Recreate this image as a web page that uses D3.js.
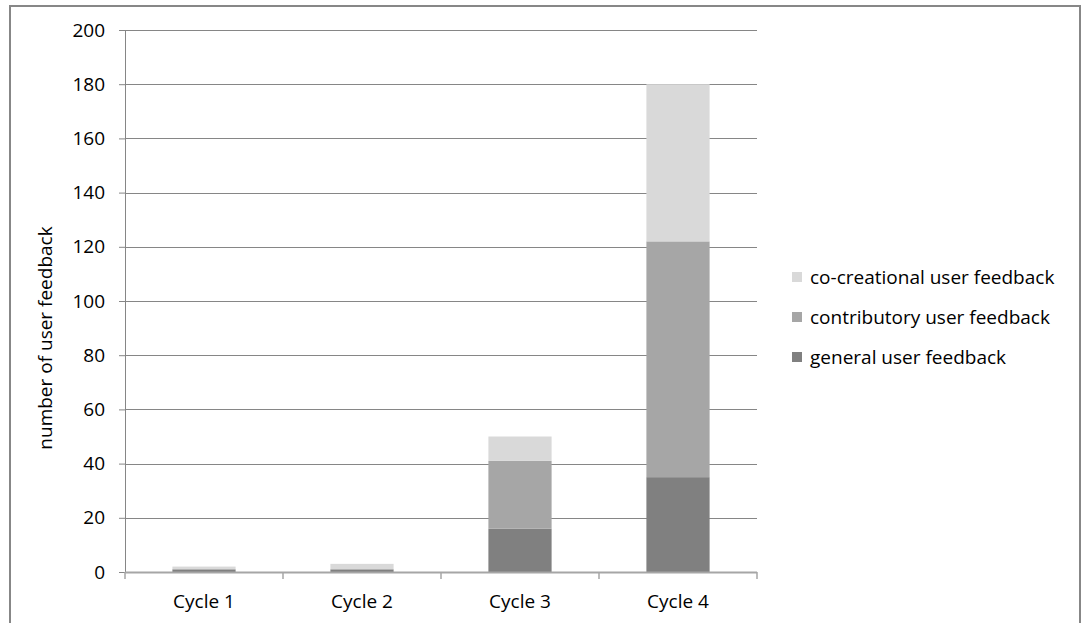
<!DOCTYPE html>
<html>
<head>
<meta charset="utf-8">
<script src="https://cdn.jsdelivr.net/npm/d3@7"></script>
<style>
  body { margin: 0; background: #fff; }
  svg text { font-family: "Open Sans", Lato, sans-serif; fill: #000; }
</style>
</head>
<body>
<div id="chart"></div>
<script>
// data
const cycles = ["Cycle 1", "Cycle 2", "Cycle 3", "Cycle 4"];
const general = [1, 1, 16, 35];
const contributory = [0, 0, 25, 87];
const cocreational = [1, 2, 9, 58];
const seriesNames = ["general user feedback", "contributory user feedback", "co-creational user feedback"];
const yTicks = [0, 20, 40, 60, 80, 100, 120, 140, 160, 180, 200];

const W = 1087, H = 623;
const fs = 19;
const svg = d3.select("#chart").append("svg")
    .attr("width", W).attr("height", H);

// outer frame
svg.append("rect")
    .attr("x", 10).attr("y", 6).attr("width", 1070).attr("height", 640)
    .attr("fill", "none").attr("stroke", "#878787").attr("stroke-width", 2);

const plot = {left: 125, right: 757, top: 30, bottom: 572};

const x = d3.scaleBand()
    .domain(cycles)
    .range([plot.left, plot.right])
    .paddingInner(0.6).paddingOuter(0.3);

const y = d3.scaleLinear()
    .domain([0, 200])
    .range([plot.bottom, plot.top]);

// gridlines
svg.append("g").selectAll("line")
  .data(yTicks.filter(d => d > 0))
  .join("line")
    .attr("x1", plot.left).attr("x2", plot.right)
    .attr("y1", d => Math.round(y(d)) + 0.5).attr("y2", d => Math.round(y(d)) + 0.5)
    .attr("stroke", "#868686").attr("stroke-width", 1);

// stacked bars
const table = cycles.map((c, i) => ({
  cycle: c,
  "general user feedback": general[i],
  "contributory user feedback": contributory[i],
  "co-creational user feedback": cocreational[i]
}));
const stack = d3.stack().keys(seriesNames)(table);
const color = d3.scaleOrdinal()
    .domain(seriesNames)
    .range(["#808080", "#a6a6a6", "#d9d9d9"]);

svg.append("g").selectAll("g")
  .data(stack)
  .join("g")
    .attr("fill", d => color(d.key))
  .selectAll("rect")
  .data(d => d)
  .join("rect")
    .attr("x", d => x(d.data.cycle))
    .attr("width", x.bandwidth())
    .attr("y", d => y(d[1]))
    .attr("height", d => y(d[0]) - y(d[1]));

// y axis
const yAxis = svg.append("g")
    .attr("transform", `translate(${plot.left},0)`)
    .call(d3.axisLeft(y).tickValues(yTicks).tickSize(6).tickPadding(14));
yAxis.select(".domain").attr("stroke", "#868686");
yAxis.selectAll(".tick line").attr("stroke", "#868686");
yAxis.selectAll(".tick text").attr("font-size", fs).attr("fill", "#000");

// x axis with ticks between categories
const xAxis = svg.append("g").attr("transform", `translate(0,${plot.bottom})`);
xAxis.append("line")
    .attr("x1", plot.left).attr("x2", plot.right)
    .attr("y1", 0.5).attr("y2", 0.5)
    .attr("stroke", "#a6a6a6").attr("stroke-width", 2);
const step = (plot.right - plot.left) / cycles.length;
xAxis.selectAll(".sep")
  .data(d3.range(cycles.length + 1))
  .join("line")
    .attr("x1", i => plot.left + i * step).attr("x2", i => plot.left + i * step)
    .attr("y1", 0).attr("y2", 7)
    .attr("stroke", "#a6a6a6").attr("stroke-width", 1.5);
xAxis.selectAll("text")
  .data(cycles)
  .join("text")
    .attr("x", d => x(d) + x.bandwidth() / 2)
    .attr("y", 36)
    .attr("text-anchor", "middle")
    .attr("font-size", fs)
    .text(d => d);

// y axis title
svg.append("text")
    .attr("transform", "translate(52,338) rotate(-90)")
    .attr("text-anchor", "middle")
    .attr("font-size", fs)
    .text("number of user feedback");

// legend (reverse order, top = co-creational)
const legend = svg.append("g").attr("transform", "translate(792,277)");
const legendItems = seriesNames.slice().reverse();
const lg = legend.selectAll("g")
  .data(legendItems)
  .join("g")
    .attr("transform", (d, i) => `translate(0,${i * 40})`);
lg.append("rect")
    .attr("x", 0).attr("y", -5).attr("width", 10).attr("height", 10)
    .attr("fill", d => color(d));
lg.append("text")
    .attr("x", 18).attr("y", 0).attr("dy", "0.35em")
    .attr("font-size", fs)
    .text(d => d);
</script>
</body>
</html>
